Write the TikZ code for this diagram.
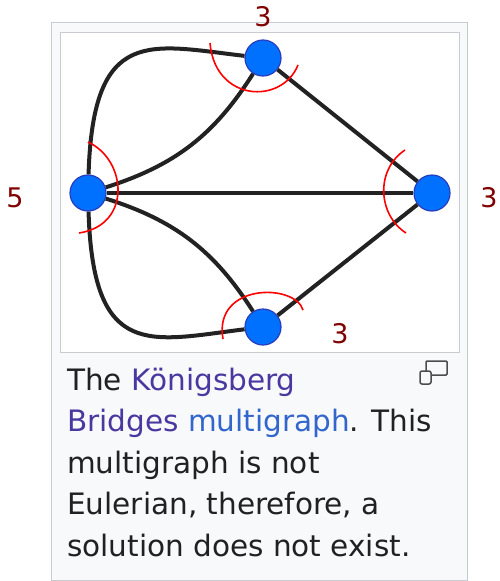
\documentclass[tikz,border=0pt]{standalone}
\usepackage{fontspec}
\setmainfont{DejaVu Sans}
\usepackage{tikz}
\definecolor{frameGray}{RGB}{200, 204, 209}
\definecolor{paneGray}{RGB}{248, 249, 250}
\definecolor{edgeGray}{RGB}{34, 34, 34}
\definecolor{dotBlue}{RGB}{0, 112, 255}
\definecolor{dotRim}{RGB}{40, 60, 190}
\definecolor{markRed}{RGB}{255, 0, 0}
\definecolor{degRed}{RGB}{128, 0, 0}
\definecolor{textGray}{RGB}{32, 33, 34}
\definecolor{linkVisited}{RGB}{75, 55, 160}
\definecolor{linkBlue}{RGB}{51, 102, 204}
\tikzset{
  vertex/.style={circle, fill=dotBlue, draw=dotRim, line width=1.2pt, minimum size=36pt, inner sep=0pt},
  bridge/.style={edgeGray, line width=4pt},
  degree/.style={text=degRed, font=\fontsize{27}{30}\selectfont},
}
\begin{document}
\begin{tikzpicture}[x=1pt, y=-1pt]
        \useasboundingbox (0,0) rectangle (499,581);
        \draw[frameGray, fill=paneGray, line width=1pt] (51,22) rectangle (467,580);
        \draw[frameGray, fill=white, line width=1pt] (60,32) rectangle (459,352);
        \node[vertex] (vTop) at (263,58) {};
        \node[vertex] (vLeft) at (88,193) {};
        \node[vertex] (vRight) at (432,193) {};
        \node[vertex] (vBot) at (263,327) {};
        \draw[bridge] (vLeft) .. controls (93,25) and (150,45) .. (vTop);
        \draw[bridge] (vLeft) to[bend right=20] (vTop);
        \draw[bridge] (vLeft) .. controls (93,361) and (150,341) .. (vBot);
        \draw[bridge] (vLeft) to[bend left=20] (vBot);
        \draw[bridge] (vLeft) -- (vRight);
        \draw[bridge] (vTop) -- (vRight);
        \draw[bridge] (vBot) -- (vRight);
        \draw[markRed, line width=1.6pt] (210,43) .. controls (215,102) and (282,105) .. (298,65);
        \draw[markRed, line width=1.6pt] (88,142) .. controls (127,160) and (132,225) .. (79,233);
        \draw[markRed, line width=1.6pt] (405,150) .. controls (375,170) and (378,215) .. (406,233);
        \draw[markRed, line width=1.6pt] (223,339) .. controls (213,283) and (295,283) .. (303,310);
        \node[degree] (dTop) at (263,17) {3};
        \node[degree] (dLeft) at (15,198) {5};
        \node[degree] (dRight) at (489,198) {3};
        \node[degree] (dBot) at (340,334) {3};
        \draw[textGray!80, line width=1.5pt, rounded corners=1pt] (426,361) rectangle (447,375);
        \draw[textGray!80, fill=paneGray, line width=1.5pt, rounded corners=2pt] (420,371) rectangle (431,384);
        \foreach \row [count=\i from 0] in {
            {The \textcolor{linkVisited}{Königsberg}},
            {\textcolor{linkVisited}{Bridges} \textcolor{linkBlue}{multigraph}. This},
            {multigraph is not},
            {Eulerian, therefore, a},
            {solution does not exist.}}
          \node[anchor=base west, inner sep=0pt, text=textGray, font=\fontsize{29.5}{42}\selectfont] (cap\i) at (67,390+41.5*\i) {\row};
      \end{tikzpicture}
\end{document}
